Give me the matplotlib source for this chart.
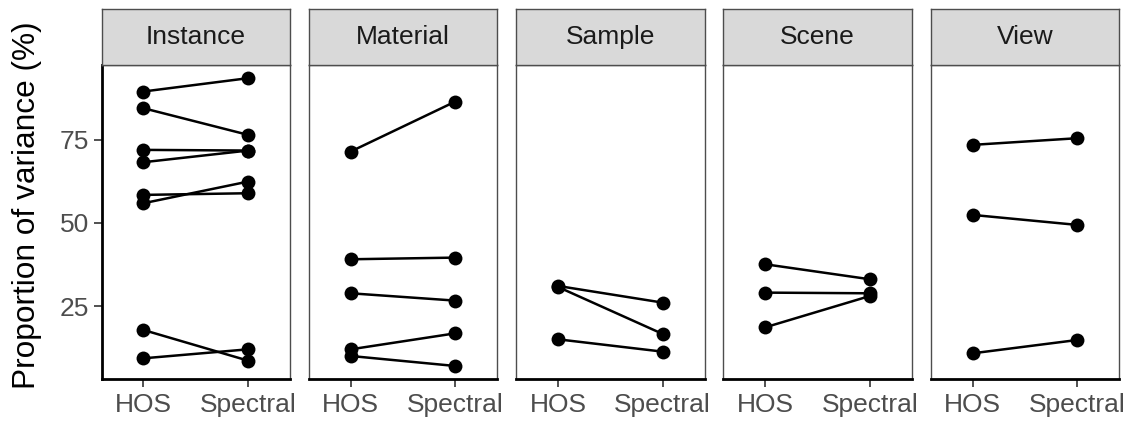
import matplotlib
matplotlib.use("Agg")
import matplotlib.pyplot as plt

plt.rcParams['font.family'] = ['Liberation Sans', 'DejaVu Sans']

# Facets and paired values (HOS vs Spectral), in percent of variance
facets = ["Instance", "Material", "Sample", "Scene", "View"]
methods = ["HOS", "Spectral"]

instance_hos = [89.4, 84.4, 71.9, 68.2, 58.4, 55.9, 17.9, 9.4]
instance_spec = [93.4, 76.4, 71.7, 71.7, 58.9, 62.4, 8.7, 12.1]
material_hos = [71.4, 39.1, 28.9, 12.1, 10.1]
material_spec = [86.4, 39.6, 26.7, 16.9, 7.1]
sample_hos = [31.1, 30.8, 15.1]
sample_spec = [26.1, 16.7, 11.4]
scene_hos = [37.6, 29.1, 18.7]
scene_spec = [33.1, 28.9, 28.1]
view_hos = [73.4, 52.4, 10.9]
view_spec = [75.4, 49.4, 14.9]

pairs = [
    (instance_hos, instance_spec),
    (material_hos, material_spec),
    (sample_hos, sample_spec),
    (scene_hos, scene_spec),
    (view_hos, view_spec),
]
y_ticks = [25, 50, 75]

W, H = 1132, 424
fig = plt.figure(figsize=(W / 100, H / 100), dpi=100)

panel_left0 = 101.5
panel_step = 207.3
panel_w = 188.5
panel_top = 64.5
panel_bot = 379.0
strip_top = 9.0

border_col = "#4D4D4D"
tick_col = "#4D4D4D"
fs = 19

for i, (facet, (hos, spec)) in enumerate(zip(facets, pairs)):
    left = panel_left0 + i * panel_step
    ax = fig.add_axes([left / W, 1 - panel_bot / H, panel_w / W,
                       (panel_bot - panel_top) / H])
    for h, s in zip(hos, spec):
        ax.plot([1, 2], [h, s], color="black", lw=1.8, zorder=2,
                solid_capstyle="butt")
    ax.scatter([1] * len(hos), hos, s=100, color="black", zorder=3,
               clip_on=False, linewidths=0)
    ax.scatter([2] * len(spec), spec, s=100, color="black", zorder=3,
               clip_on=False, linewidths=0)

    ax.set_xlim(0.6, 2.4)
    ax.set_ylim(3.2, 97.5)
    ax.set_xticks([1, 2])
    ax.set_xticklabels(methods, fontsize=fs, color=tick_col)
    ax.tick_params(axis="x", length=5.5, width=1.2, color="#333333", pad=4.5)

    for sp in ax.spines.values():
        sp.set_color(border_col)
        sp.set_linewidth(1.0)
    ax.spines["bottom"].set_color("black")
    ax.spines["bottom"].set_linewidth(2.0)

    if i == 0:
        ax.set_yticks(y_ticks)
        ax.set_yticklabels([str(t) for t in y_ticks], fontsize=fs,
                           color=tick_col)
        ax.tick_params(axis="y", length=5.5, width=1.2, color="#333333",
                       pad=3.5)
        ax.spines["left"].set_color("black")
        ax.spines["left"].set_linewidth(2.0)
    else:
        ax.set_yticks([])

    # facet strip
    sax = fig.add_axes([left / W, 1 - panel_top / H, panel_w / W,
                        (panel_top - strip_top) / H])
    sax.set_xticks([])
    sax.set_yticks([])
    sax.set_facecolor("#D9D9D9")
    for sp in sax.spines.values():
        sp.set_color(border_col)
        sp.set_linewidth(1.0)
    sax.text(0.5, 0.5, facet, ha="center", va="center", fontsize=fs,
             color="#1A1A1A", transform=sax.transAxes)

fig.text(27 / W, 1 - 205 / H, "Proportion of variance (%)", rotation=90,
         ha="center", va="center", fontsize=22.8, color="black")

fig.savefig("out.png", dpi=100, facecolor="white")
